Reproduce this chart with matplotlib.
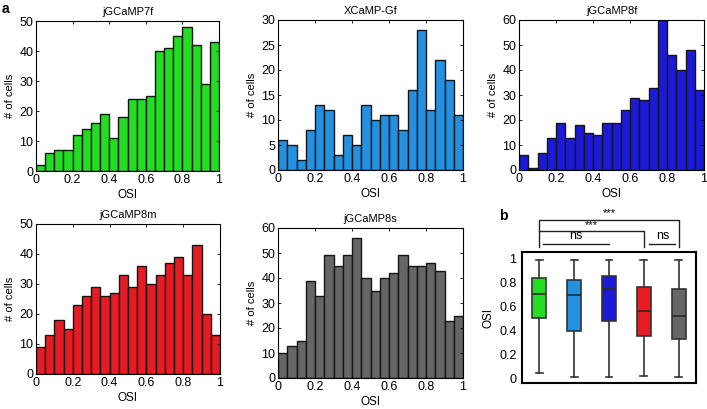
import numpy as np
import matplotlib.pyplot as plt

plt.rcParams['font.family'] = ['Liberation Sans', 'DejaVu Sans']

# histogram counts, 20 bins of width 0.05 on OSI 0..1
names = ['jGCaMP7f', 'XCaMP-Gf', 'jGCaMP8f', 'jGCaMP8m', 'jGCaMP8s']
colors = ['#22dd22', '#2490e0', '#1a1ad8', '#e51c23', '#666666']
c7f = [2, 6, 7, 7, 12, 14, 16, 19, 11, 18, 24, 24, 25, 40, 41, 45, 48, 42, 29, 43]
cxg = [6, 5, 2, 8, 13, 12, 3, 7, 5, 13, 10, 11, 11, 8, 16, 28, 12, 22, 18, 11]
c8f = [6, 1, 7, 13, 19, 13, 18, 15, 14, 19, 19, 24, 29, 28, 33, 60, 46, 40, 48, 32]
c8m = [9, 13, 18, 15, 23, 26, 29, 26, 27, 33, 29, 36, 30, 33, 37, 39, 33, 43, 20, 13]
c8s = [10, 13, 15, 39, 33, 49, 45, 49, 56, 40, 35, 40, 42, 49, 45, 45, 46, 43, 23, 25]
counts = [c7f, cxg, c8f, c8m, c8s]
ymaxes = [50, 30, 60, 50, 60]
ysteps = [10, 5, 10, 10, 10]
bin_edges = np.linspace(0, 1, 21)
xticks = [0, 0.2, 0.4, 0.6, 0.8, 1]
xticklabels = ['0', '0.2', '0.4', '0.6', '0.8', '1']

# box plot summary (whislo, q1, med, q3, whishi)
box_lo = [0.04, 0.01, 0.01, 0.02, 0.01]
box_q1 = [0.50, 0.39, 0.48, 0.35, 0.33]
box_med = [0.70, 0.69, 0.74, 0.56, 0.52]
box_q3 = [0.83, 0.82, 0.85, 0.76, 0.74]
box_hi = [0.98, 0.98, 0.98, 0.98, 0.98]

W, H = 707, 409
fig = plt.figure(figsize=(W / 100, H / 100), dpi=100)

def rect(l, r, t, b):
    return [l / W, (H - b) / H, (r - l) / W, (b - t) / H]

rects = [rect(36, 219, 21, 171), rect(278, 463, 20, 170), rect(519, 704, 20, 170),
         rect(36, 220, 224, 374), rect(278, 463, 228, 378)]

for i in range(5):
    ax = fig.add_axes(rects[i])
    ax.bar(bin_edges[:-1], counts[i], width=0.05, align='edge',
           color=colors[i], edgecolor='#151515', linewidth=1.0)
    ax.set_xlim(0, 1)
    ax.set_ylim(0, ymaxes[i])
    ax.set_xticks(xticks)
    ax.set_xticklabels(xticklabels)
    ax.set_yticks(np.arange(0, ymaxes[i] + 1, ysteps[i]))
    ax.tick_params(direction='in', top=True, right=True, labelsize=9,
                   length=2.5, width=0.6, pad=2)
    for s in ax.spines.values():
        s.set_linewidth(0.8)
    ax.set_title(names[i], fontsize=8, pad=4)
    ax.set_xlabel('OSI', fontsize=8.5, labelpad=2)
    ax.set_ylabel('# of cells', fontsize=8, labelpad=3)

# panel b
ax = fig.add_axes(rect(522, 696, 252, 383))
stats = []
for i in range(5):
    stats.append(dict(whislo=box_lo[i], q1=box_q1[i], med=box_med[i],
                      q3=box_q3[i], whishi=box_hi[i], fliers=[]))
bp = ax.bxp(stats, positions=range(1, 6), widths=0.4, patch_artist=True,
            showfliers=False,
            medianprops=dict(color='#2a2a2a', linewidth=1.2),
            whiskerprops=dict(color='#333333', linewidth=1.2),
            capprops=dict(color='#333333', linewidth=1.2),
            boxprops=dict(edgecolor='#333333', linewidth=1.2))
for patch, c in zip(bp['boxes'], colors):
    patch.set_facecolor(c)
ax.set_xlim(0.5, 5.5)
ax.set_ylim(-0.04, 1.05)
ax.set_xticks([])
ax.set_yticks([0, 0.2, 0.4, 0.6, 0.8, 1])
ax.set_yticklabels(['0', '0.2', '0.4', '0.6', '0.8', '1'])
ax.tick_params(axis='y', direction='in', labelsize=9, length=0, pad=4)
for s in ax.spines.values():
    s.set_linewidth(1.5)
ax.set_ylabel('OSI', fontsize=8.5, labelpad=3)

lc = '#222222'
# significance brackets
ax.plot([1, 1, 5, 5], [1.09, 1.32, 1.32, 1.09], color=lc, lw=1, clip_on=False)
ax.text(3, 1.33, '***', ha='center', va='bottom', fontsize=8)
ax.plot([1, 4, 4], [1.225, 1.225, 1.09], color=lc, lw=1, clip_on=False)
ax.text(2.5, 1.235, '***', ha='center', va='bottom', fontsize=8)
ax.plot([1.1, 3.0], [1.117, 1.117], color=lc, lw=1, clip_on=False)
ax.text(2.05, 1.13, 'ns', ha='center', va='bottom', fontsize=9)
ax.plot([4.15, 4.9], [1.117, 1.117], color=lc, lw=1, clip_on=False)
ax.text(4.55, 1.13, 'ns', ha='center', va='bottom', fontsize=9)

fig.text(2 / W, 1 - 9 / H, 'a', fontsize=10, fontweight='bold', va='center')
fig.text(499 / W, 1 - 216 / H, 'b', fontsize=10, fontweight='bold', va='center')

fig.savefig('out.png', dpi=100)
